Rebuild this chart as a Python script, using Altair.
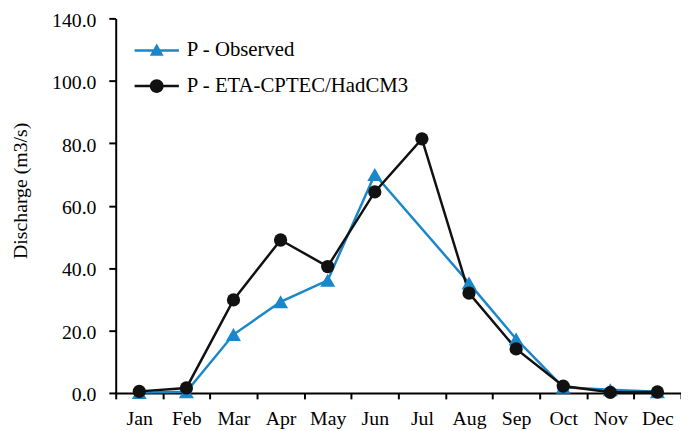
import altair as alt
import pandas as pd

months = ["Jan", "Feb", "Mar", "Apr", "May", "Jun", "Jul", "Aug", "Sep", "Oct", "Nov", "Dec"]
series_names = ["P - Observed", "P - ETA-CPTEC/HadCM3"]
series_colors = ["#1a87c9", "#111111"]
series_shapes = ["triangle-up", "circle"]
series_sizes = [230, 180]

observed = [0.1, 0.4, 18.7, 29.2, 36.1, 70.0, None, 35.2, 17.3, 1.8, 1.0, 0.4]
eta = [0.5, 1.6, 29.8, 49.0, 40.5, 64.4, 81.4, 32.0, 14.1, 2.2, 0.2, 0.3]

y_ticks = [0, 20, 40, 60, 80, 100, 120]

rows = []
for name, vals in zip(series_names, [observed, eta]):
    for m, v in zip(months, vals):
        if v is not None:
            rows.append({"month": m, "value": v, "series": name,
                         "leg0": series_names[0], "leg1": series_names[1]})
df = pd.DataFrame(rows)

# legend glyphs: a thin bar (the line) through the marker, fill only
legend_shapes = [
    "M-3.2,-0.18H3.2V0.18H-3.2Z M0,-1L1,0.75L-1,0.75Z",
    "M-3.2,-0.18H3.2V0.18H-3.2Z M1,0A1,1,0,1,1,-1,0A1,1,0,1,1,1,0Z",
]

font = "Liberation Serif"

x_enc = alt.X(
    "month:N",
    sort=months,
    bandPosition=0.5,
    scale=alt.Scale(type="band", paddingInner=0, paddingOuter=0, domain=months),
    axis=alt.Axis(title=None, tickBand="extent", labelAngle=0, tickSize=6,
                  labelPadding=10, labelFontSize=20),
)
y_enc = alt.Y(
    "value:Q",
    scale=alt.Scale(domain=[0, 120], nice=False, zero=True),
    axis=alt.Axis(
        values=y_ticks,
        labelExpr="datum.value == 120 ? '140.0' : format(datum.value, '.1f')",
        title="Discharge (m3/s)",
        grid=False,
        tickSize=7,
        labelPadding=13,
        labelOffset=2,
        labelFontSize=20,
        titleFontSize=20,
        titleFontWeight="normal",
        titlePadding=21,
        titleY=174,
    ),
)

base = alt.Chart(df)
color_enc = alt.Color("series:N", scale=alt.Scale(domain=series_names, range=series_colors), legend=None)

lines = base.mark_line(strokeWidth=2.5).encode(
    x=x_enc,
    y=y_enc,
    color=color_enc,
)

points = base.mark_point(filled=True, opacity=1).encode(
    x=x_enc,
    y=y_enc,
    color=color_enc,
    shape=alt.Shape("series:N", scale=alt.Scale(domain=series_names, range=series_shapes), legend=None),
    size=alt.Size("series:N", scale=alt.Scale(domain=series_names, range=series_sizes), legend=None),
)


def legend_layer(i):
    return base.transform_filter("false").mark_point(
        filled=True, size=196, opacity=1, fill=series_colors[i],
    ).encode(
        x=x_enc,
        y=y_enc,
        shape=alt.Shape(
            f"leg{i}:N",
            scale=alt.Scale(domain=[series_names[i]], range=[legend_shapes[i]]),
            legend=alt.Legend(
                title=None,
                orient="none",
                legendX=31,
                legendY=22 + 36 * i,
                padding=0,
                symbolSize=196,
                symbolStrokeWidth=0,
                symbolOpacity=1,
                symbolFillColor=series_colors[i],
                labelOffset=20,
                labelFontSize=21,
                labelFont=font,
                labelColor="black",
                labelLimit=400,
            ),
        ),
    )


chart = alt.layer(lines, points, legend_layer(0), legend_layer(1)).resolve_scale(
    shape="independent"
).resolve_legend(
    shape="independent"
).properties(
    width=572,
    height=379,
    autosize=alt.AutoSizeParams(type="none"),
    padding={"left": 109, "top": 8, "right": 0, "bottom": 36},
).configure_axis(
    domainColor="black",
    domainWidth=2,
    tickColor="black",
    tickWidth=2,
    labelColor="black",
    titleColor="black",
    labelFont=font,
    titleFont=font,
).configure_view(
    stroke=None,
)

chart.save("out.html", embed_options={"renderer": "svg", "actions": False})
